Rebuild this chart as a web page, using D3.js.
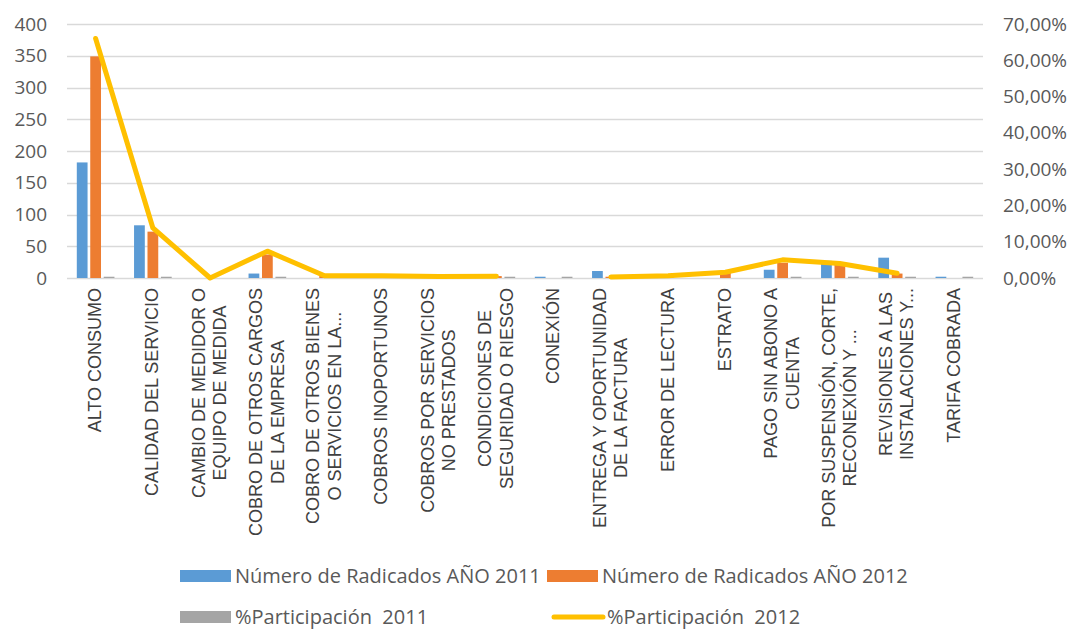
<!DOCTYPE html>
<html>
<head>
<meta charset="utf-8">
<script src="https://cdn.jsdelivr.net/npm/d3@7/dist/d3.min.js"></script>
<style>
  body { margin: 0; background: #fff; }
  svg { display: block; }
</style>
</head>
<body>
<svg id="chart" width="1077" height="630"></svg>
<script>
////////////////////
//     DATA      ///
////////////////////

// category labels, "\n" marks where the label wraps
var categories = [
  "ALTO CONSUMO",
  "CALIDAD DEL SERVICIO",
  "CAMBIO DE MEDIDOR O\nEQUIPO DE MEDIDA",
  "COBRO DE OTROS CARGOS\nDE LA EMPRESA",
  "COBRO DE OTROS BIENES\nO SERVICIOS EN LA...",
  "COBROS INOPORTUNOS",
  "COBROS POR SERVICIOS\nNO PRESTADOS",
  "CONDICIONES DE\nSEGURIDAD O RIESGO",
  "CONEXIÓN",
  "ENTREGA Y OPORTUNIDAD\nDE LA FACTURA",
  "ERROR DE LECTURA",
  "ESTRATO",
  "PAGO SIN ABONO A\nCUENTA",
  "POR SUSPENSIÓN, CORTE,\nRECONEXIÓN Y ...",
  "REVISIONES A LAS\nINSTALACIONES Y...",
  "TARIFA COBRADA"
];

var radicados2011 = [182, 83, 0, 7, 0, 0, 6, 0, 2, 11, 0, 0, 13, 27, 32, 2];
var radicados2012 = [349, 73, 0, 37, 3, 3, 2, 3, 0, 2, 3, 8, 24, 21, 7, 0];
var participacion2011 = [2, 2, 0, 2, 0, 0, 0, 2, 2, 0, 0, 0, 2, 2, 2, 2];
// percent, null where the line has no point
var participacion2012 = [66.0, 13.8, 0, 7.4, 0.6, 0.6, 0.4, 0.5, null, 0.3, 0.6, 1.6, 5.0, 4.0, 1.3, null];

var leftTicks = [0, 50, 100, 150, 200, 250, 300, 350, 400];
var rightTicks = [0, 10, 20, 30, 40, 50, 60, 70];

var seriesNames = ["Número de Radicados AÑO 2011", "Número de Radicados AÑO 2012",
                   "%Participación  2011", "%Participación  2012"];

////////////////////
//    OPTIONS    ///
////////////////////

var plot = {left: 67, right: 983, top: 24, bottom: 278};
var colors = {blue: "#5B9BD5", orange: "#ED7D31", gray: "#A5A5A5", line: "#FFC000"};
var textColor = "#595959";
var gridColor = "#D9D9D9";
var tickFont = "'Open Sans', sans-serif";
var labelFont = "'Liberation Sans', Arial, sans-serif";

var svg = d3.select("#chart");

//scales
var x0 = d3.scaleBand().domain(d3.range(categories.length)).range([plot.left, plot.right]);
var groupW = 39;
var x1 = d3.scaleBand().domain([0, 1, 2])
  .range([(x0.bandwidth() - groupW) / 2, (x0.bandwidth() + groupW) / 2])
  .paddingInner(0.2).paddingOuter(0.05);
var yL = d3.scaleLinear().domain([0, 400]).range([plot.bottom, plot.top]);
var yR = d3.scaleLinear().domain([0, 70]).range([plot.bottom, plot.top]);

//gridlines
svg.append("g").selectAll("line").data(leftTicks).join("line")
  .attr("x1", plot.left).attr("x2", plot.right)
  .attr("y1", function(d) { return Math.round(yL(d)) + 0.5; })
  .attr("y2", function(d) { return Math.round(yL(d)) + 0.5; })
  .attr("stroke", gridColor).attr("stroke-width", 1.5);

//left axis
var axL = svg.append("g").attr("transform", "translate(" + (plot.left - 20) + ",0)")
  .call(d3.axisLeft(yL).tickValues(leftTicks).tickSize(0).tickPadding(0));
axL.select(".domain").remove();
axL.selectAll("text").attr("fill", textColor).style("font-family", tickFont).style("font-size", "19px");

//right axis
var axR = svg.append("g").attr("transform", "translate(" + (plot.right + 20) + ",0)")
  .call(d3.axisRight(yR).tickValues(rightTicks).tickSize(0).tickPadding(0)
    .tickFormat(function(d) { return d3.format(".2f")(d).replace(".", ",") + "%"; }));
axR.select(".domain").remove();
axR.selectAll("text").attr("fill", textColor).style("font-family", tickFont).style("font-size", "19px");

//bars
var barSeries = [
  {values: radicados2011, color: colors.blue},
  {values: radicados2012, color: colors.orange},
  {values: participacion2011, color: colors.gray}
];
barSeries.forEach(function(s, si) {
  svg.append("g").selectAll("rect").data(s.values).join("rect")
    .attr("x", function(d, i) { return x0(i) + x1(si); })
    .attr("width", x1.bandwidth())
    .attr("y", function(d) { return yL(d); })
    .attr("height", function(d) { return yL(0) - yL(d); })
    .attr("fill", s.color);
});

//line for participation 2012
var line = d3.line()
  .defined(function(d) { return d !== null; })
  .x(function(d, i) { return x0(i) + x0.bandwidth() / 2; })
  .y(function(d) { return yR(d); });
svg.append("path").datum(participacion2012)
  .attr("d", line)
  .attr("fill", "none")
  .attr("stroke", colors.line)
  .attr("stroke-width", 5)
  .attr("stroke-linejoin", "round")
  .attr("stroke-linecap", "round");

//category labels, rotated, top aligned below the plot
var labelTop = 288;
var lineGap = 21.7;
var labG = svg.append("g");
categories.forEach(function(c, i) {
  var parts = c.split("\n");
  var cx = x0(i) + x0.bandwidth() / 2;
  var t = labG.append("text")
    .attr("text-anchor", "middle")
    .attr("fill", "#404040")
    .style("font-family", labelFont)
    .style("font-size", "18px");
  parts.forEach(function(p, k) {
    t.append("tspan").attr("x", 0).attr("dy", k === 0 ? 0 : lineGap).text(p);
  });
  var maxLen = 0;
  t.selectAll("tspan").each(function() { maxLen = Math.max(maxLen, this.getComputedTextLength()); });
  var offset = -(parts.length - 1) * lineGap / 2 + 5.5;
  t.attr("transform", "translate(" + (cx + offset) + "," + (labelTop + maxLen / 2) + ") rotate(-90)");
});

//legend
var legend = [
  {name: seriesNames[0], color: colors.blue, kind: "rect", x: 180, y: 576},
  {name: seriesNames[1], color: colors.orange, kind: "rect", x: 547, y: 576},
  {name: seriesNames[2], color: colors.gray, kind: "rect", x: 180, y: 617},
  {name: seriesNames[3], color: colors.line, kind: "line", x: 552, y: 617}
];
var lg = svg.append("g").selectAll("g").data(legend).join("g")
  .attr("transform", function(d) { return "translate(" + d.x + "," + d.y + ")"; });
lg.filter(function(d) { return d.kind === "rect"; }).append("rect")
  .attr("x", 0).attr("y", -6).attr("width", 51).attr("height", 12)
  .attr("fill", function(d) { return d.color; });
lg.filter(function(d) { return d.kind === "line"; }).append("line")
  .attr("x1", 2).attr("x2", 51).attr("y1", 0).attr("y2", 0)
  .attr("stroke", function(d) { return d.color; })
  .attr("stroke-width", 5).attr("stroke-linecap", "round");
lg.append("text")
  .attr("x", 55).attr("dy", "0.35em")
  .attr("fill", textColor)
  .style("font-family", tickFont)
  .style("font-size", "20px")
  .style("white-space", "pre")
  .text(function(d) { return d.name; });
</script>
</body>
</html>
